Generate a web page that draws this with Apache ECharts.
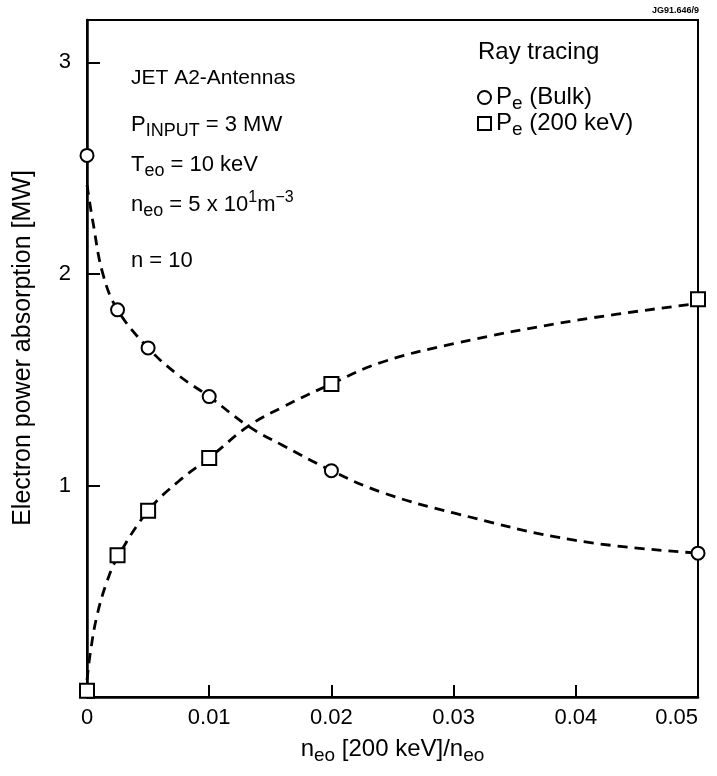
<!DOCTYPE html>
<html>
<head>
<meta charset="utf-8">
<script src="https://cdn.jsdelivr.net/npm/echarts@6/dist/echarts.min.js"></script>
<style>
  html, body { margin: 0; padding: 0; background: #fff; }
  #chart { width: 717px; height: 776px; }
</style>
</head>
<body>
<div id="chart"></div>
<script>
// ray tracing results (markers)
const ratio = [0, 0.0025, 0.005, 0.01, 0.02, 0.05]
const bulkPower = [2.56, 1.83, 1.65, 1.42, 1.07, 0.68]
const hotPower = [0.03, 0.67, 0.88, 1.13, 1.48, 1.88]

// dashed fit curves
const bulkFitX = [0, 0.0005, 0.0013, 0.0025, 0.005, 0.0075, 0.01, 0.0132, 0.016, 0.02, 0.024, 0.03, 0.04, 0.05]
const bulkFitY = [2.42, 2.24, 2.0, 1.83, 1.65, 1.52, 1.42, 1.28, 1.19, 1.07, 0.97, 0.87, 0.74, 0.68]
const hotFitX = [0, 0.0003, 0.0008, 0.0016, 0.0025, 0.005, 0.0075, 0.01, 0.0132, 0.016, 0.02, 0.024, 0.03, 0.04, 0.05]
const hotFitY = [0.08, 0.22, 0.38, 0.54, 0.66, 0.88, 1.02, 1.13, 1.28, 1.37, 1.48, 1.58, 1.67, 1.78, 1.86]

const xTickLabels = ['0', '0.01', '0.02', '0.03', '0.04', '0.05']
const yTickLabels = ['', '1', '2', '3']

const font = 'Liberation Sans'
const zip = (xs, ys) => xs.map((x, i) => [x, ys[i]])

const rich = {
  j: { fontFamily: font, fontSize: 21, color: '#000', lineHeight: 30 },
  m: { fontFamily: font, fontSize: 22, color: '#000', lineHeight: 30 },
  s: { fontFamily: font, fontSize: 18, color: '#000', lineHeight: 30, padding: [12, 0, 0, 0] },
  u: { fontFamily: font, fontSize: 16, color: '#000', lineHeight: 30, padding: [0, 0, 14, 0] }
}
const legendRich = {
  m: { fontFamily: font, fontSize: 24, color: '#000', lineHeight: 28 },
  s: { fontFamily: font, fontSize: 19, color: '#000', lineHeight: 28, padding: [12, 0, 0, 0] }
}

const notes = [
  { top: 68, text: '{j|JET A2-Antennas}' },
  { top: 110, text: '{m|P}{s|INPUT}{m| = 3 MW}' },
  { top: 150, text: '{m|T}{s|eo}{m| = 10 keV}' },
  { top: 190, text: '{m|n}{s|eo}{m| = 5 x 10}{u|1}{m|m}{u|−3}' },
  { top: 250, text: '{m|n = 10}' }
]

const chart = echarts.init(document.getElementById('chart'))
chart.setOption({
  backgroundColor: '#fff',
  animation: false,
  grid: {
    left: 87, right: 19, top: 20, bottom: 79,
    show: true, borderColor: '#000', borderWidth: 2
  },
  xAxis: {
    type: 'value',
    min: 0, max: 0.05, interval: 0.01,
    axisLine: { show: true, lineStyle: { color: '#000', width: 2.5 } },
    axisTick: { show: true, inside: true, length: 12, lineStyle: { color: '#000', width: 2 } },
    splitLine: { show: false },
    axisLabel: {
      margin: 10, fontFamily: font, fontSize: 22, color: '#000',
      alignMaxLabel: 'right',
      formatter: v => xTickLabels[Math.round(v / 0.01)]
    },
    name: '{m|n}{s|eo}{m| [200 keV]/n}{s|eo}',
    nameLocation: 'middle',
    nameGap: 36,
    nameTextStyle: { rich: {
      m: { fontFamily: font, fontSize: 24, color: '#000', lineHeight: 30 },
      s: { fontFamily: font, fontSize: 19, color: '#000', lineHeight: 30, padding: [12, 0, 0, 0] }
    } }
  },
  yAxis: {
    type: 'value',
    min: 0, max: 3.2, interval: 1,
    axisLine: { show: true, lineStyle: { color: '#000', width: 2.5 } },
    axisTick: { show: true, inside: true, length: 13, lineStyle: { color: '#000', width: 2 } },
    splitLine: { show: false },
    axisLabel: {
      margin: 16, fontFamily: font, fontSize: 22, color: '#000',
      formatter: v => (Number.isInteger(v) ? yTickLabels[v] : '')
    }
  },
  legend: {
    orient: 'vertical',
    left: 472, top: 77,
    itemWidth: 13, itemHeight: 13, itemGap: -5,
    data: ['bulk', 'hot'],
    formatter: name => (name === 'bulk' ? '{m|P}{s|e}{m| (Bulk)}' : '{m|P}{s|e}{m| (200 keV)}'),
    textStyle: { rich: legendRich }
  },
  graphic: [
    ...notes.map(n => ({
      type: 'text', left: 131, top: n.top,
      style: { text: n.text, rich: rich }
    })),
    {
      type: 'text', left: 478, top: 40,
      style: { text: 'Ray tracing', fontFamily: font, fontSize: 24, fill: '#000' }
    },
    {
      type: 'text', x: 23, y: 348, rotation: Math.PI / 2,
      style: {
        text: 'Electron power absorption [MW]', fontFamily: font, fontSize: 25, fill: '#000',
        align: 'center', verticalAlign: 'middle'
      }
    },
    {
      type: 'text', left: 652, top: 6,
      style: { text: 'JG91.646/9', fontFamily: font, fontSize: 9, fontWeight: 'bold', fill: '#000' }
    }
  ],
  series: [
    {
      type: 'line', smooth: 0.4, showSymbol: false, silent: true,
      data: zip(bulkFitX, bulkFitY),
      lineStyle: { color: '#000', width: 2.8, type: [10, 7] }, z: 2
    },
    {
      type: 'line', smooth: 0.4, showSymbol: false, silent: true,
      data: zip(hotFitX, hotFitY),
      lineStyle: { color: '#000', width: 2.8, type: [10, 7] }, z: 2
    },
    {
      name: 'bulk', type: 'scatter', symbol: 'circle', symbolSize: 13,
      data: zip(ratio, bulkPower),
      itemStyle: { color: '#fff', borderColor: '#000', borderWidth: 2, opacity: 1 }, z: 5
    },
    {
      name: 'hot', type: 'scatter', symbol: 'rect', symbolSize: 14,
      data: zip(ratio, hotPower),
      itemStyle: { color: '#fff', borderColor: '#000', borderWidth: 2, opacity: 1 }, z: 5
    }
  ]
})
</script>
</body>
</html>
